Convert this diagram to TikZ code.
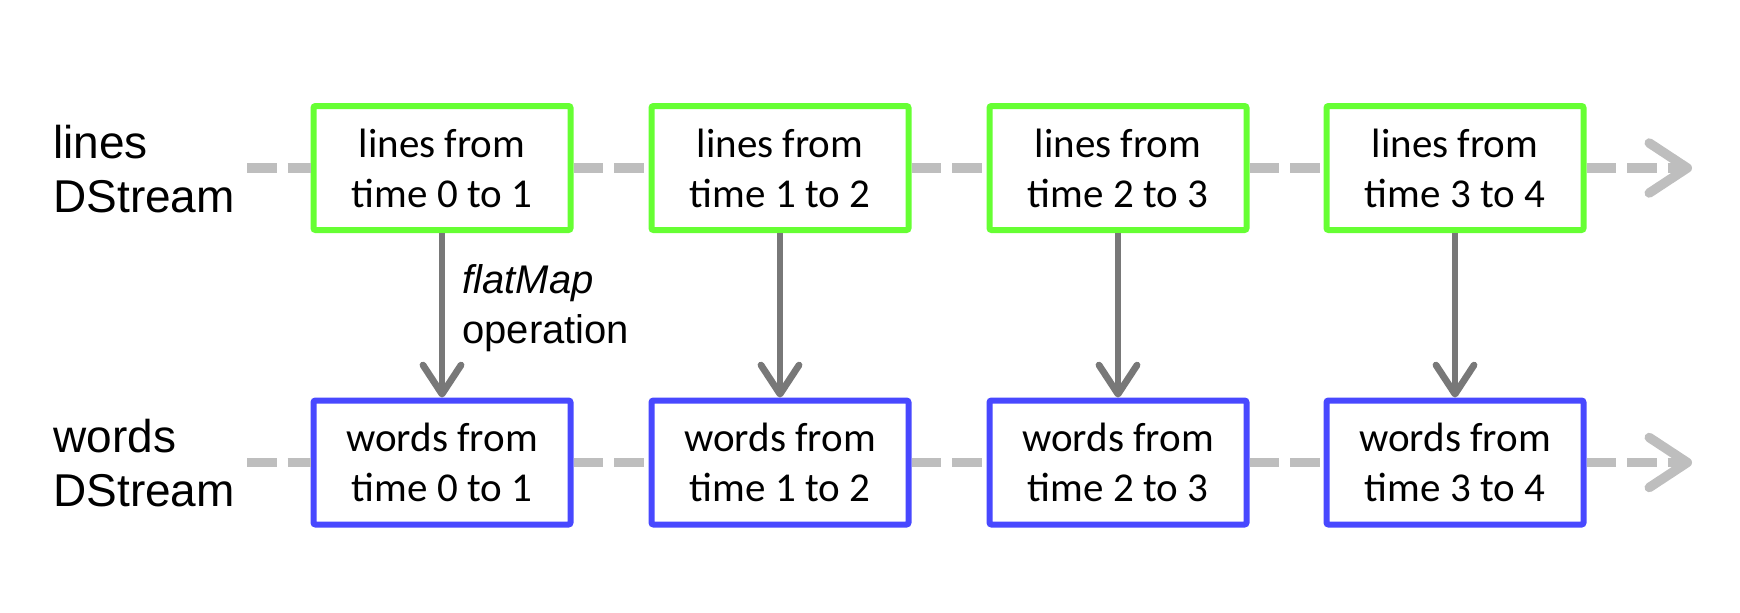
\documentclass[tikz,border=0pt]{standalone}
\usepackage{fontspec}
\setmainfont{Carlito}
\newfontfamily\labfont{Liberation Sans}
\usetikzlibrary{arrows.meta}
\definecolor{boxgreen}{RGB}{102,255,51}
\definecolor{boxblue}{RGB}{72,72,255}
\definecolor{streamgray}{RGB}{190,190,190}
\definecolor{opgray}{RGB}{120,120,120}
\begin{document}
\begin{tikzpicture}[x=0.5pt,y=-0.5pt,
  slot/.style={draw,line width=3pt,rounded corners=1pt,minimum width=128.5pt,minimum height=62pt,inner sep=0pt,align=center,font=\fontsize{20.5}{25}\selectfont,fill=white},
  linebox/.style={slot,draw=boxgreen},
  wordbox/.style={slot,draw=boxblue},
  stream/.style={draw=streamgray,line width=4.75pt,dash pattern=on 14.75pt off 5.5pt},
  streamend/.style={stream,-{Straight Barb[length=19pt,width=25pt,round]}},
  op/.style={draw=opgray,line width=3.4pt,-{Straight Barb[length=14.5pt,width=19pt,round]}},
  rowlabel/.style={anchor=west,inner sep=0pt,align=left,font=\labfont\fontsize{23}{27}\selectfont},
  oplab/.style={anchor=north west,inner sep=0pt,align=left,font=\labfont\fontsize{20}{25}\selectfont}
]
\useasboundingbox (0,0) rectangle (1740,612);
\node[rowlabel] (lineslabel) at (53,169.5) {lines\\DStream};
\node[rowlabel] (wordslabel) at (53,463.5) {words\\DStream};
\node[linebox] (l1) at (442,168) {lines from\\time 0 to 1};
\node[linebox] (l2) at (780,168) {lines from\\time 1 to 2};
\node[linebox] (l3) at (1118,168) {lines from\\time 2 to 3};
\node[linebox] (l4) at (1455,168) {lines from\\time 3 to 4};
\node[wordbox] (w1) at (442,462.5) {words from\\time 0 to 1};
\node[wordbox] (w2) at (780,462.5) {words from\\time 1 to 2};
\node[wordbox] (w3) at (1118,462.5) {words from\\time 2 to 3};
\node[wordbox] (w4) at (1455,462.5) {words from\\time 3 to 4};
\coordinate (ls) at (247,168);
\coordinate (le) at (1692,168);
\coordinate (ws) at (247,462.5);
\coordinate (we) at (1692,462.5);
\draw[stream] (ls) -- (l1);
\draw[stream] (l1) -- (l2);
\draw[stream] (l2) -- (l3);
\draw[stream] (l3) -- (l4);
\draw[streamend] (l4) -- (le);
\draw[stream] (ws) -- (w1);
\draw[stream] (w1) -- (w2);
\draw[stream] (w2) -- (w3);
\draw[stream] (w3) -- (w4);
\draw[streamend] (w4) -- (we);
\draw[op] (l1) -- (w1);
\draw[op] (l2) -- (w2);
\draw[op] (l3) -- (w3);
\draw[op] (l4) -- (w4);
\node[oplab] (oplabel) at (462,264) {\itshape flatMap\\operation};
\end{tikzpicture}
\end{document}
